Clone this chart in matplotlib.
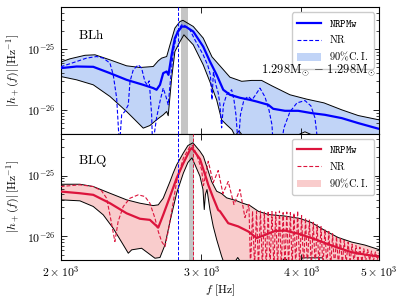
import matplotlib
matplotlib.use("Agg")
import matplotlib.pyplot as plt
import numpy as np
from matplotlib.ticker import FixedLocator, NullLocator, FuncFormatter, NullFormatter

plt.rcParams.update({
    "mathtext.fontset": "cm",
    "font.family": "serif",
    "font.serif": ["DejaVu Serif"],
    "xtick.direction": "in",
    "ytick.direction": "in",
    "xtick.top": True,
    "ytick.right": True,
})

UNIT = 1e-26

# ---------------- BLh (top) ----------------
blh_up_f = [2000, 2054, 2145, 2208, 2305, 2418, 2513, 2611, 2649, 2675, 2714, 2740, 2779, 2820, 2844,
            2930, 3015, 3092, 3164, 3256, 3368, 3466, 3567, 3675, 3870, 4061, 4269, 4492, 4711, 5000]
blh_up_v = [6.11, 6.92, 7.91, 8.06, 6.66, 5.31, 4.98, 5.17, 6.42, 7.11, 7.55, 11.77, 22.2, 28.5, 29.8,
            23.6, 15.2, 7.46, 5.3, 3.45, 2.95, 3.05, 3.05, 2.48, 1.77, 1.50, 1.30, 1.0, 0.805, 0.684]

blh_lo_f = [2000, 2094, 2197, 2305, 2418, 2489, 2537, 2586, 2636, 2687, 2714, 2726, 2753, 2779, 2820,
            2852, 2930, 3015, 3074, 3134, 3179, 3225, 3275, 3305, 3342, 3380, 3449, 3950, 3983, 4041,
            4099, 4200, 5000]
blh_lo_v = [3.54, 3.12, 2.58, 1.66, 0.938, 0.642, 0.499, 0.551, 0.684, 0.827, 0.938, 0.80, 3.33, 9.13, 13.3,
            17.2, 11.77, 5.51, 2.89, 1.46, 0.684, 0.566, 0.47, 0.37, 0.45, 0.37, 0.3, 0.3, 0.40, 0.434,
            0.40, 0.3, 0.25]

blh_med_f = [2000, 2094, 2197, 2305, 2418, 2537, 2611, 2636, 2662, 2687, 2714, 2728, 2753, 2779, 2803,
             2836, 2869, 2930, 3015, 3074, 3134, 3194, 3256, 3351, 3449, 3516, 3636, 3688, 3815, 3964,
             4119, 4281, 4492, 4711, 5000]
blh_med_v = [4.86, 5.17, 5.11, 4.02, 3.12, 2.58, 2.28, 2.14, 2.58, 4.02, 4.28, 3.77, 8.06, 15.2, 19.3,
             23.6, 23.3, 19.5, 11.0, 6.25, 3.77, 2.14, 1.77, 1.58, 1.46, 1.37, 1.21, 1.04, 0.963, 0.963,
             0.882, 0.827, 0.730, 0.604, 0.486]

blh_nr_f = [2000, 2094, 2155, 2218, 2261, 2305, 2327, 2350, 2369, 2384, 2406, 2430, 2442, 2465, 2501,
            2525, 2549, 2566, 2581, 2599, 2606, 2636, 2662, 2687, 2708, 2726, 2745, 2766, 2798, 2833,
            2852, 2902, 2944, 3015, 3056, 3078, 3092, 3105, 3127, 3148, 3164, 3179, 3196, 3225, 3272,
            3294, 3313, 3335, 3356, 3390, 3432, 3469, 3499, 3550, 3601, 3643, 3675, 3688, 3771, 3804,
            3870, 3949, 4041, 4111, 4159, 4199]
blh_nr_v = [5.11, 6.25, 7.11, 7.55, 7.11, 5.88, 3.77, 1.56, 0.25, 0.827, 0.938, 1.21, 2.92, 4.56, 5.51,
            4.86, 2.92, 2.58, 3.00, 0.827, 0.25, 0.738, 1.37, 2.28, 1.66, 1.21, 3.33, 9.13, 19.5, 25.1,
            25.1, 20.8, 14.2, 8.06, 5.31, 3.77, 1.46, 4.23, 2.58, 1.91, 1.21, 0.505, 1.21, 1.77, 2.14,
            1.46, 0.827, 0.25, 0.827, 1.46, 1.66, 1.46, 1.70, 2.28, 1.64, 1.0, 0.566, 0.25, 0.25, 0.505,
            0.927, 1.30, 1.42, 1.16, 0.738, 0.25]

# ---------------- BLQ (bottom) ----------------
blq_up_f = [2000, 2114, 2197, 2305, 2418, 2513, 2611, 2649, 2687, 2740, 2766, 2793, 2847, 2885, 2927,
            2987, 3017, 3045, 3089, 3134, 3179, 3225, 3313, 3368, 3449, 3533, 3636, 3815, 3983, 4119,
            4281, 4447, 4622, 4802, 5000]
blq_up_v = [7.19, 7.19, 6.59, 5.11, 3.98, 3.50, 3.20, 3.29, 4.23, 7.96, 11.08, 15.0, 23.5, 31.2, 34.6,
            25.1, 20.6, 14.2, 7.96, 5.51, 5.05, 4.29, 3.88, 3.55, 3.20, 2.58, 2.28, 2.15, 1.96, 1.68,
            1.24, 0.952, 0.802, 0.716, 0.604]

blq_lo_f = [2000, 2114, 2197, 2261, 2327, 2395, 2430, 2454, 2525, 2574, 2624, 2662, 2701, 2740, 2793,
            2847, 2885, 2919, 2987, 3013, 3024, 3034, 3048, 3074, 3103, 3134, 3179, 3209, 3280, 3330,
            3380, 3740, 3815, 3880, 3980, 4010, 4250, 4300, 5000]
blq_lo_v = [3.98, 3.83, 3.09, 2.25, 1.35, 0.722, 0.525, 0.597, 0.634, 0.525, 0.434, 0.446, 0.722, 1.75, 5.11,
            10.9, 16.4, 19.6, 9.74, 5.88, 2.75, 4.86, 5.88, 2.75, 1.46, 0.882, 0.468, 0.33, 0.33, 0.446,
            0.33, 0.33, 0.44, 0.33, 0.33, 0.44, 0.44, 0.33, 0.3]

blq_med_f = [2000, 2114, 2197, 2305, 2418, 2513, 2586, 2649, 2687, 2740, 2793, 2847, 2902, 2919, 2987,
             3045, 3059, 3103, 3148, 3164, 3240, 3335, 3432, 3516, 3601, 3707, 3815, 3964, 4119, 4281,
             4447, 4622, 4802, 5000]
blq_med_v = [5.45, 5.11, 4.81, 3.50, 2.39, 1.94, 1.86, 1.39, 2.25, 4.51, 9.03, 15.9, 26.5, 28.4, 18.7,
             8.59, 7.03, 4.29, 2.70, 2.58, 1.64, 1.45, 1.20, 0.934, 1.05, 1.22, 1.24, 1.10, 0.934, 0.773,
             0.644, 0.545, 0.499, 0.463]

blq_nr_f = [2000, 2114, 2197, 2250, 2283, 2305, 2338, 2360, 2395, 2442, 2501, 2549, 2586, 2624, 2649,
            2675, 2701, 2726, 2753, 2793, 2847, 2902, 2925, 2958, 3001, 3017, 3059, 3103, 3148, 3191,
            3240, 3294, 3351, 3400, 3439,
            3455, 3475, 3495, 3515, 3535, 3555, 3575, 3595, 3615, 3635, 3655, 3675, 3695, 3715, 3735,
            3755, 3775, 3795, 3815, 3835, 3855, 3875, 3895, 3915, 3935, 3957, 3980, 4002, 4025, 4048,
            4070, 4093, 4116, 4139, 4162, 4185, 4208, 4232, 4256, 4280, 4304, 4328, 4352, 4376, 4400,
            4425, 4450, 4475, 4500, 4525, 4550, 4576, 4602, 4628, 4654, 4680, 4706, 4733, 4760, 4787,
            4814, 4841, 4868, 4895, 4922, 4950, 4977, 5000]
blq_nr_v = [6.59, 7.03, 6.59, 5.60, 4.23, 2.25, 0.818, 1.75, 3.09, 4.23, 4.81, 4.51, 3.50, 1.98, 1.20,
            0.818, 0.677, 1.20, 2.55, 7.96, 19.3, 30.0, 31.2, 22.2, 12.56, 6.84, 17.2, 7.67, 12.1, 5.05,
            7.96, 3.33, 5.88, 2.03, 3.33,
            0.3, 2.6, 0.3, 2.55, 0.3, 2.6, 0.3, 2.5, 0.3, 2.6, 0.3, 2.55, 0.3, 2.5, 0.3,
            2.6, 0.3, 2.45, 0.3, 2.5, 0.3, 2.45, 0.3, 2.4, 0.3, 2.6, 0.3, 2.2, 0.3, 2.0,
            0.3, 1.85, 0.3, 1.7, 0.3, 1.55, 0.3, 1.45, 0.3, 1.3, 0.3, 1.2, 0.3, 1.1, 0.3,
            1.0, 0.32, 0.95, 0.34, 0.86, 0.35, 0.8, 0.36, 0.74, 0.37, 0.7, 0.38, 0.66, 0.38, 0.62,
            0.39, 0.6, 0.4, 0.57, 0.4, 0.55, 0.41, 0.52]

# markers
blh_merger = 2806
blh_band = (2827, 2888)
blq_merger = 2925
blq_band = (2896, 2938)

x_ticks = [2000, 3000, 4000, 5000]
x_ticklabels = [r"$2\times10^{3}$", r"$3\times10^{3}$", r"$4\times10^{3}$", r"$5\times10^{3}$"]
y_major = [1e-26, 1e-25]
y_minor = [m * 10.0 ** e for e in (-27, -26, -25) for m in range(2, 10)]

fig, axes = plt.subplots(2, 1, sharex=True, figsize=(4.07, 3.01), dpi=100)
fig.subplots_adjust(left=0.149, right=0.931, top=0.976, bottom=0.136, hspace=0)

panels = [
    (axes[0], "BLh", "blue", "cornflowerblue", 0.4, blh_up_f, blh_up_v, blh_lo_f, blh_lo_v,
     blh_med_f, blh_med_v, blh_nr_f, blh_nr_v, blh_band),
    (axes[1], "BLQ", "crimson", "lightcoral", 0.4, blq_up_f, blq_up_v, blq_lo_f, blq_lo_v,
     blq_med_f, blq_med_v, blq_nr_f, blq_nr_v, blq_band),
]

for (ax, name, col, fcol, falpha, uf, uv, lf, lv, mf, mv, nf, nv, band) in panels:
    uf = np.array(uf, float); uv = np.array(uv) * UNIT
    lf = np.array(lf, float); lv = np.array(lv) * UNIT
    poly_x = np.concatenate([uf, lf[::-1]])
    poly_y = np.concatenate([uv, lv[::-1]])
    ax.fill(poly_x, poly_y, color=fcol, alpha=falpha, lw=0, zorder=1, label=r"$90\%\mathrm{C.I.}$")
    ax.plot(uf, uv, color="black", lw=0.7, zorder=2)
    ax.plot(lf, lv, color="black", lw=0.7, zorder=2)
    ax.axvspan(band[0], band[1], color="grey", alpha=0.45, lw=0, zorder=1.5)
    ax.plot(mf, np.array(mv) * UNIT, color=col, lw=1.6, zorder=3, label=r"$\mathtt{NRPMw}$")
    ax.plot(nf, np.array(nv) * UNIT, color=col, lw=0.8, ls=(0, (3.5, 1.8)), zorder=3, label=r"$\mathrm{NR}$")
    ax.axvline(blh_merger, color="blue", lw=0.7, ls=(0, (3.5, 1.8)), zorder=3)
    ax.set_xscale("log")
    ax.set_yscale("log")
    ax.set_xlim(2000, 5000)
    ax.set_ylim(4.05e-27, 4.9e-25)
    ax.set_ylabel(r"$|h_+(f)|\,[\mathrm{Hz}^{-1}]$", fontsize=8.5)
    ax.text(0.055, 0.78, r"$\mathrm{%s}$" % name, transform=ax.transAxes, fontsize=9.5, va="center")
    h, l = ax.get_legend_handles_labels()
    order = [1, 2, 0]
    ax.legend([h[i] for i in order], [l[i] for i in order], loc="upper right", fontsize=7.5,
              handlelength=2.3, borderpad=0.5, labelspacing=0.45, framealpha=1, fancybox=True)
    ax.yaxis.set_major_locator(FixedLocator(y_major))
    ax.yaxis.set_minor_locator(FixedLocator(y_minor))
    ax.yaxis.set_major_formatter(FuncFormatter(lambda v, p: r"$10^{%d}$" % int(round(np.log10(v)))))
    ax.yaxis.set_minor_formatter(NullFormatter())
    ax.xaxis.set_major_locator(FixedLocator(x_ticks))
    ax.xaxis.set_minor_locator(NullLocator())
    ax.tick_params(which="major", length=4.5, width=0.6, labelsize=8.5)
    ax.tick_params(which="minor", length=2.5, width=0.5)
    for s in ax.spines.values():
        s.set_linewidth(0.8)

axes[1].axvline(blq_merger, color="crimson", lw=0.7, ls=(0, (3.5, 1.8)), zorder=3)
axes[0].text(0.99, 0.50, r"$1.298\mathrm{M}_{\odot}\,-\,1.298\mathrm{M}_{\odot}$",
             transform=axes[0].transAxes, fontsize=9, ha="right", va="center", zorder=6)
axes[0].tick_params(axis="x", labelbottom=False)
axes[1].xaxis.set_major_formatter(FuncFormatter(
    lambda v, p: dict(zip(x_ticks, x_ticklabels)).get(int(round(v)), "")))
axes[1].set_xlabel(r"$f\ [\mathrm{Hz}]$", fontsize=8.5, labelpad=2)

fig.savefig("out.png", dpi=100)
